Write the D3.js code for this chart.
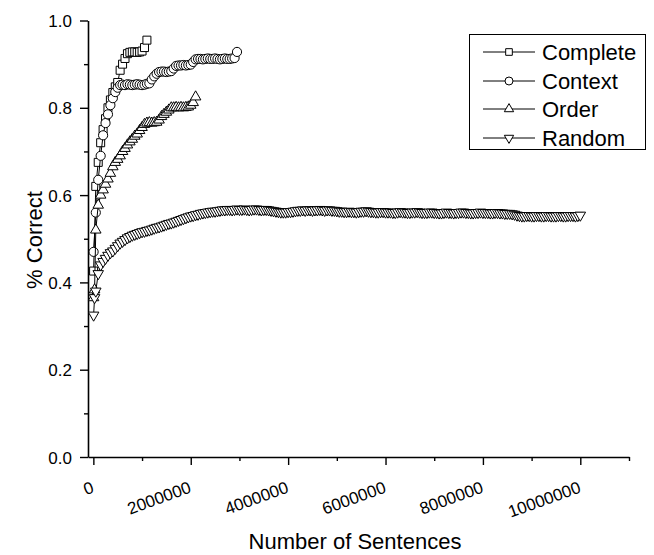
<!DOCTYPE html>
<html>
<head>
<meta charset="utf-8">
<script src="https://cdn.jsdelivr.net/npm/d3@7"></script>
<style>
  body { margin: 0; background: #fff; }
  text { font-family: "Liberation Sans", Arial, sans-serif; fill: #000; }
</style>
</head>
<body>
<script>
// sentence counts at which each run was measured
var sentences = [5000, 25000].concat(d3.range(50000, 10000001, 50000));

var seriesNames = ["Complete", "Context", "Order", "Random"];

var complete = [0.426, null, 0.62, 0.675, 0.72, 0.75, 0.775, 0.80, 0.818, 0.835,
  0.848, 0.858, 0.886, 0.90, 0.913, 0.924, 0.927, 0.928, 0.928, 0.927,
  0.928, 0.93, 0.938, 0.955];

var context = [0.47, null, 0.56, 0.635, 0.69, 0.737, 0.765, 0.785, 0.806, 0.822,
  0.836, 0.846, 0.852, 0.853, 0.852, 0.854, 0.853, 0.852, 0.853, 0.854,
  0.853, 0.852, 0.853, 0.855, 0.856, 0.865, 0.872, 0.878, 0.882, 0.883,
  0.883, 0.882, 0.883, 0.884, 0.89, 0.896, 0.897, 0.897, 0.898, 0.897,
  0.898, 0.899, 0.905, 0.911, 0.912, 0.912, 0.911, 0.912, 0.913, 0.912,
  0.912, 0.913, 0.912, 0.911, 0.912, 0.913, 0.912, 0.912, 0.913, 0.914,
  0.928];

var order = [0.365, 0.383, 0.52, 0.577, 0.60, 0.612, 0.625, 0.637, 0.65, 0.665,
  0.675, 0.682, 0.69, 0.70, 0.707, 0.715, 0.722, 0.728, 0.735, 0.74,
  0.748, 0.755, 0.762, 0.765, 0.766, 0.765, 0.766, 0.767, 0.772, 0.78,
  0.785, 0.79, 0.795, 0.80, 0.80, 0.801, 0.80, 0.801, 0.80, 0.801,
  0.802, 0.806, 0.812, 0.825];

var random = [0.325, 0.365,
  0.38, 0.42, 0.44, 0.448, 0.455, 0.462, 0.468, 0.472, 0.478, 0.484,
  0.49, 0.494, 0.498, 0.502, 0.505, 0.508, 0.51, 0.512, 0.514, 0.516,
  0.517, 0.519, 0.52, 0.522, 0.524, 0.526, 0.527, 0.529, 0.531, 0.533,
  0.535, 0.536, 0.538, 0.54, 0.542, 0.544, 0.546, 0.548, 0.55, 0.552,
  0.553, 0.555, 0.556, 0.558, 0.559, 0.56, 0.561, 0.562, 0.563, 0.563,
  0.564, 0.565, 0.566, 0.566, 0.567, 0.567, 0.566, 0.567, 0.568, 0.567,
  0.567, 0.568, 0.567, 0.566, 0.567, 0.568, 0.568, 0.567, 0.566, 0.567,
  0.567, 0.566, 0.565, 0.564, 0.563, 0.562, 0.561, 0.561, 0.561, 0.562,
  0.562, 0.563, 0.564, 0.565, 0.565, 0.566, 0.565, 0.566, 0.566, 0.565,
  0.566, 0.566, 0.567, 0.566, 0.565, 0.566, 0.566, 0.565, 0.565, 0.564,
  0.563, 0.563, 0.562, 0.562, 0.563, 0.562, 0.562, 0.561, 0.562, 0.563,
  0.563, 0.564, 0.563, 0.562, 0.562, 0.561, 0.561, 0.562, 0.562, 0.561,
  0.561, 0.561, 0.56, 0.56, 0.561, 0.562, 0.561, 0.561, 0.56, 0.56,
  0.561, 0.561, 0.562, 0.561, 0.56, 0.56, 0.56, 0.561, 0.561, 0.56,
  0.56, 0.559, 0.559, 0.56, 0.561, 0.56, 0.56, 0.559, 0.56, 0.56,
  0.561, 0.561, 0.56, 0.56, 0.559, 0.559, 0.56, 0.56, 0.561, 0.56,
  0.56, 0.56, 0.559, 0.559, 0.56, 0.56, 0.559, 0.559, 0.558, 0.558,
  0.558, 0.557, 0.556, 0.554, 0.553, 0.552, 0.552, 0.553, 0.553, 0.552,
  0.552, 0.553, 0.553, 0.552, 0.552, 0.553, 0.553, 0.552, 0.552, 0.552,
  0.553, 0.553, 0.552, 0.552, 0.553, 0.553, 0.553, 0.552, 0.553, 0.554];

var yTicks = [0.0, 0.2, 0.4, 0.6, 0.8, 1.0];
var xTicks = [0, 2000000, 4000000, 6000000, 8000000, 10000000];

main();

function main() {
  setupCanvas();
  setupScales();
  appendAxes();
  appendSeries();
  appendLegend();
  appendTitles();
}

function setupCanvas() {
  width = 654;
  height = 555;
  svg = d3.select("body").append("svg")
    .attr("width", width)
    .attr("height", height);
}

function setupScales() {
  x = d3.scaleLinear().domain([-110000, 11000000]).range([88, 629]);
  y = d3.scaleLinear().domain([0, 1]).range([457, 20.5]);
}

function appendAxes() {
  var yAxis = svg.append("g")
    .attr("transform", "translate(88,0)")
    .call(d3.axisLeft(y).tickValues(yTicks).tickSize(8).tickPadding(8)
      .tickFormat(d3.format(".1f")).tickSizeOuter(0));
  yAxis.selectAll("text").style("font-size", "17px").attr("dy", "0.36em");

  // minor ticks
  svg.append("g")
    .attr("transform", "translate(88,0)")
    .call(d3.axisLeft(y).tickValues([0.1, 0.3, 0.5, 0.7, 0.9]).tickSize(4)
      .tickFormat("").tickSizeOuter(0))
    .select(".domain").remove();

  var xAxis = svg.append("g")
    .attr("transform", "translate(0,457)")
    .call(d3.axisBottom(x).tickValues(xTicks).tickSize(8)
      .tickFormat(d3.format("d")).tickSizeOuter(0));
  xAxis.selectAll("text")
    .style("font-size", "17px")
    .attr("text-anchor", "end")
    .attr("y", 0)
    .attr("dy", 0)
    .attr("transform", "translate(1,35) rotate(-20)");

  svg.append("g")
    .attr("transform", "translate(0,457)")
    .call(d3.axisBottom(x).tickValues([1000000, 3000000, 5000000, 7000000, 9000000, 11000000])
      .tickSize(4).tickFormat("").tickSizeOuter(0))
    .select(".domain").remove();

  svg.selectAll(".domain").attr("stroke-width", 1.6);
  svg.selectAll(".tick line").attr("stroke-width", 1.4);
}

function markerPath(i, size) {
  var types = [d3.symbolSquare, d3.symbolCircle, d3.symbolTriangle, d3.symbolTriangle];
  return d3.symbol().type(types[i]).size(size)();
}

function appendSeries() {
  var all = [complete, context, order, random];
  var sizes = [64, 66, 48, 48];
  var line = d3.line()
    .x(function (d) { return x(d.n); })
    .y(function (d) { return y(d.v); });

  all.forEach(function (vals, i) {
    var pts = vals.map(function (v, j) { return { n: sentences[j], v: v }; })
      .filter(function (d) { return d.v != null; });
    var g = svg.append("g");
    g.append("path")
      .attr("d", line(pts))
      .attr("fill", "none")
      .attr("stroke", "#000")
      .attr("stroke-width", 1);
    g.selectAll("path.mark")
      .data(pts)
      .enter().append("path")
      .attr("class", "mark")
      .attr("d", markerPath(i, sizes[i]))
      .attr("transform", function (d) {
        return "translate(" + x(d.n) + "," + y(d.v) + ")" + (i == 3 ? " rotate(180)" : "");
      })
      .attr("fill", "#fff")
      .attr("stroke", "#000")
      .attr("stroke-width", 1);
  });
}

function appendLegend() {
  var lg = svg.append("g");
  lg.append("rect")
    .attr("x", 469.5).attr("y", 34.5)
    .attr("width", 176).attr("height", 115)
    .attr("fill", "#fff").attr("stroke", "#000").attr("stroke-width", 1);
  var rows = [52, 81, 109, 138];
  var sizes = [44, 50, 38, 38];
  seriesNames.forEach(function (name, i) {
    lg.append("line")
      .attr("x1", 483).attr("x2", 535)
      .attr("y1", rows[i]).attr("y2", rows[i])
      .attr("stroke", "#000").attr("stroke-width", 1);
    lg.append("path")
      .attr("d", markerPath(i, sizes[i]))
      .attr("transform", "translate(509," + rows[i] + ")" + (i == 3 ? " rotate(180)" : ""))
      .attr("fill", "#fff").attr("stroke", "#000").attr("stroke-width", 1);
    lg.append("text")
      .attr("x", 542).attr("y", rows[i] + 8)
      .style("font-size", "22px")
      .text(name);
  });
}

function appendTitles() {
  svg.append("text")
    .attr("x", 355).attr("y", 549)
    .attr("text-anchor", "middle")
    .style("font-size", "22px")
    .text("Number of Sentences");
  svg.append("text")
    .attr("transform", "translate(42,240) rotate(-90)")
    .attr("text-anchor", "middle")
    .style("font-size", "22px")
    .text("% Correct");
}
</script>
</body>
</html>
